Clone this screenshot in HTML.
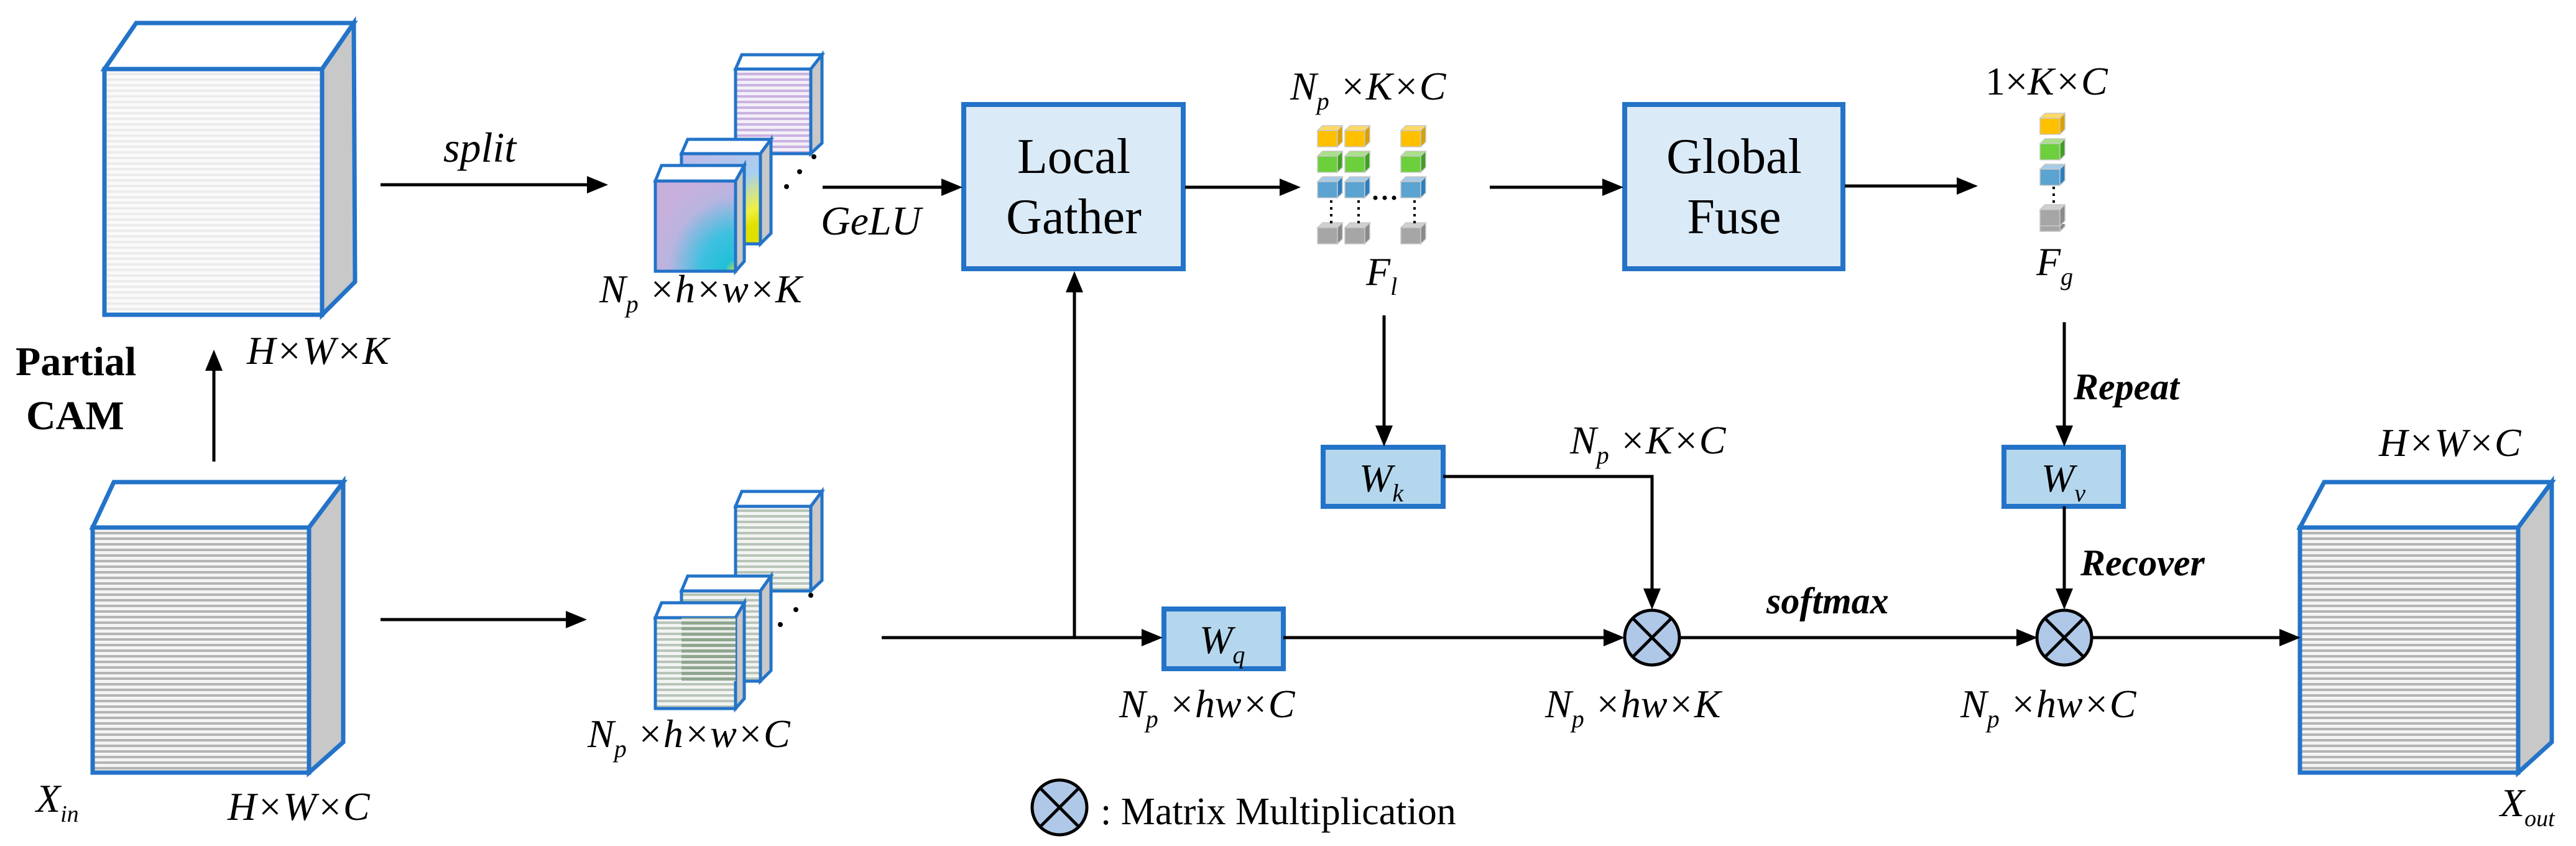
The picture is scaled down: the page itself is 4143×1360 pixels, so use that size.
<!DOCTYPE html>
<html><head><meta charset="utf-8"><style>
html,body{margin:0;padding:0;background:#fff;}
svg{display:block;}
svg text, svg tspan{font-family:"Liberation Serif","DejaVu Serif","Times New Roman",Times,serif;fill:#000;}
.it{font-style:italic;}
</style></head><body>
<svg width="4143" height="1360" viewBox="0 0 4143 1360" xmlns="http://www.w3.org/2000/svg">
<defs>
<pattern id="pl" width="10" height="9" patternUnits="userSpaceOnUse"><rect width="10" height="9" fill="#fafafa"/><rect y="0" width="10" height="4" fill="#ececec"/></pattern>
<pattern id="pd" width="10" height="9" patternUnits="userSpaceOnUse"><rect width="10" height="9" fill="#f4f4f4"/><rect y="0" width="10" height="4" fill="#b4b4b4"/></pattern>
<pattern id="pv" width="10" height="9" patternUnits="userSpaceOnUse"><rect width="10" height="9" fill="#f3eef8"/><rect y="0" width="10" height="4" fill="#c9b3e0"/></pattern>
<pattern id="pg" width="10" height="9" patternUnits="userSpaceOnUse"><rect width="10" height="9" fill="#f2f4f2"/><rect y="0" width="10" height="4" fill="#b8c4b8"/></pattern>
<pattern id="pg2" width="10" height="9" patternUnits="userSpaceOnUse"><rect width="10" height="9" fill="#e8ece8"/><rect y="0" width="10" height="5" fill="#8fa58f"/></pattern>
<radialGradient id="rg" cx="1" cy="1" r="1.1"><stop offset="0" stop-color="#d8e040"/><stop offset="0.12" stop-color="#20c0d8"/><stop offset="0.4" stop-color="#40c0e0"/><stop offset="0.75" stop-color="#b8b4e0"/><stop offset="1" stop-color="#c8b0dc"/></radialGradient>
<linearGradient id="lg" x1="0" y1="0" x2="0.4" y2="1"><stop offset="0" stop-color="#c0b8e8"/><stop offset="0.5" stop-color="#a8d0f0"/><stop offset="0.85" stop-color="#f0f040"/><stop offset="1" stop-color="#e0e000"/></linearGradient>
</defs>

<g stroke="#2373c8" stroke-width="7" stroke-linejoin="miter">
<polygon points="168,111 219,37 569,37 518,111" fill="#fff"/>
<polygon points="518,111 569,37 571,453 518,506" fill="#c8c8c8"/>
<rect x="168" y="111" width="350" height="395" fill="url(#pl)"/>
<polygon points="149,848 183,775 552,775 497,848" fill="#fff"/>
<polygon points="497,848 552,775 552,1193 497,1242" fill="#c8c8c8"/>
<rect x="149" y="848" width="348" height="394" fill="url(#pd)"/>
<polygon points="3699,848 3738,775 4104,775 4050,848" fill="#fff"/>
<polygon points="4050,848 4104,775 4104,1193 4050,1242" fill="#c8c8c8"/>
<rect x="3699" y="848" width="351" height="394" fill="url(#pd)"/>
</g>

<g stroke="#2373c8" stroke-width="5">
<polygon points="1183,111 1193,88 1322,88 1304,111" fill="#fff"/>
<polygon points="1304,111 1322,88 1322,230 1304,247" fill="#c8c8c8"/>
<rect x="1183" y="111" width="121" height="136" fill="url(#pv)"/>
<polygon points="1096,247 1106,224 1240,224 1223,247" fill="#fff"/>
<polygon points="1223,247 1240,224 1240,375 1223,392" fill="#c8c8c8"/>
<rect x="1096" y="247" width="127" height="145" fill="url(#lg)"/>
<polygon points="1054,291 1064,266 1197,266 1183,291" fill="#fff"/>
<polygon points="1183,291 1197,266 1197,420 1183,436" fill="#c8c8c8"/>
<rect x="1054" y="291" width="129" height="145" fill="url(#rg)"/>
<polygon points="1183,814 1193,790 1322,790 1304,814" fill="#fff"/>
<polygon points="1304,814 1322,790 1322,933 1304,950" fill="#c8c8c8"/>
<rect x="1183" y="814" width="121" height="136" fill="url(#pg)"/>
<polygon points="1096,950 1106,926 1240,926 1223,950" fill="#fff"/>
<polygon points="1223,950 1240,926 1240,1078 1223,1095" fill="#c8c8c8"/>
<rect x="1096" y="950" width="127" height="145" fill="url(#pg)"/>
<polygon points="1054,993 1064,969 1197,969 1183,993" fill="#fff"/>
<polygon points="1183,993 1197,969 1197,1123 1183,1139" fill="#c8c8c8"/>
<rect x="1054" y="993" width="129" height="146" fill="url(#pg)"/>
<rect x="1096" y="993" width="87" height="102" fill="url(#pg2)" stroke="none"/>
</g>
<g fill="#000">
<circle cx="1265" cy="300" r="4"/><circle cx="1286" cy="276" r="4"/><circle cx="1309" cy="252" r="4"/>
<circle cx="1255" cy="1004" r="4"/><circle cx="1280" cy="980" r="4"/><circle cx="1304" cy="957" r="4"/>
</g>

<g stroke="#2373c8" stroke-width="8">
<rect x="1550" y="168" width="353" height="264" fill="#dbeaf7"/>
<rect x="2613" y="168" width="351" height="264" fill="#dbeaf7"/>
<rect x="2128" y="719" width="193" height="95" fill="#b4d7ee"/>
<rect x="1872" y="979" width="192" height="96" fill="#b4d7ee"/>
<rect x="3223" y="719" width="192" height="95" fill="#b4d7ee"/>
</g>

<g stroke="#c8c8c8" stroke-width="1.5">
<g id="col">
<polygon points="2119,210 2127,202 2159,202 2151,210" fill="#ffd966"/><rect x="2119" y="210" width="32" height="26" fill="#ffc000"/><polygon points="2151,210 2159,202 2159,228 2151,236" fill="#d9a000"/>
<polygon points="2119,251 2127,243 2159,243 2151,251" fill="#a9e08a"/><rect x="2119" y="251" width="32" height="26" fill="#6ccf3c"/><polygon points="2151,251 2159,243 2159,269 2151,277" fill="#3fa020"/>
<polygon points="2119,292 2127,284 2159,284 2151,292" fill="#a6cbe6"/><rect x="2119" y="292" width="32" height="26" fill="#5ba3d0"/><polygon points="2151,292 2159,284 2159,310 2151,318" fill="#2a7fc0"/>
<polygon points="2119,366 2127,358 2159,358 2151,366" fill="#d0d0d0"/><rect x="2119" y="366" width="32" height="26" fill="#a6a6a6"/><polygon points="2151,366 2159,358 2159,384 2151,392" fill="#8a8a8a"/>
</g>
<use href="#col" x="44"/>
<use href="#col" x="134"/>
<use href="#col" x="1162" y="-20"/>
</g>
<rect x="3270" y="340" width="60" height="20" fill="#fff"/>
<g stroke="#c8c8c8" stroke-width="1.5">
<polygon points="3281,337 3289,329 3321,329 3313,337" fill="#d0d0d0"/><rect x="3281" y="337" width="32" height="26" fill="#a6a6a6"/><polygon points="3313,337 3321,329 3321,355 3313,363" fill="#8a8a8a"/>
</g>
<g stroke="#000" stroke-width="4" stroke-dasharray="4,7">
<line x1="2141" y1="322" x2="2141" y2="362"/>
<line x1="2185" y1="322" x2="2185" y2="362"/>
<line x1="2275" y1="322" x2="2275" y2="362"/>
<line x1="3303" y1="300" x2="3303" y2="333"/>
</g>
<g fill="#000"><circle cx="2212" cy="318" r="3.5"/><circle cx="2227" cy="318" r="3.5"/><circle cx="2242" cy="318" r="3.5"/></g>

<g stroke="#000" stroke-width="5" fill="none">
<line x1="612" y1="297" x2="950" y2="297"/>
<line x1="612" y1="996" x2="915" y2="996"/>
<line x1="344" y1="742" x2="344" y2="590"/>
<line x1="1323" y1="301" x2="1520" y2="301"/>
<line x1="1906" y1="301" x2="2065" y2="301"/>
<line x1="2396" y1="301" x2="2583" y2="301"/>
<line x1="2967" y1="299" x2="3153" y2="299"/>
<line x1="2226" y1="507" x2="2226" y2="690"/>
<polyline points="2321,766 2657,766 2657,952"/>
<line x1="1418" y1="1025" x2="1842" y2="1025"/>
<line x1="1728" y1="1025" x2="1728" y2="463"/>
<line x1="2064" y1="1025" x2="2586" y2="1025"/>
<line x1="2703" y1="1025" x2="3250" y2="1025"/>
<line x1="3320" y1="518" x2="3320" y2="690"/>
<line x1="3320" y1="814" x2="3320" y2="952"/>
<line x1="3365" y1="1025" x2="3672" y2="1025"/>
</g>
<g fill="#000">
<polygon points="978,297 944,283 944,311"/>
<polygon points="944,996 910,982 910,1010"/>
<polygon points="344,562 330,596 358,596"/>
<polygon points="1728,436 1714,470 1742,470"/>
<polygon points="1548,301 1514,287 1514,315"/>
<polygon points="2092,301 2058,287 2058,315"/>
<polygon points="2611,301 2577,287 2577,315"/>
<polygon points="3181,299 3147,285 3147,313"/>
<polygon points="2226,718 2212,684 2240,684"/>
<polygon points="2657,980 2643,946 2671,946"/>
<polygon points="1870,1025 1836,1011 1836,1039"/>
<polygon points="2613,1025 2579,1011 2579,1039"/>
<polygon points="3277,1025 3243,1011 3243,1039"/>
<polygon points="3320,718 3306,684 3334,684"/>
<polygon points="3320,980 3306,946 3334,946"/>
<polygon points="3700,1025 3666,1011 3666,1039"/>
</g>

<g stroke="#000" stroke-width="5" fill="#b0c8e8">
<circle cx="2657" cy="1025" r="44"/>
<line x1="2626" y1="994" x2="2688" y2="1056"/><line x1="2688" y1="994" x2="2626" y2="1056"/>
<circle cx="3320" cy="1025" r="44"/>
<line x1="3289" y1="994" x2="3351" y2="1056"/><line x1="3351" y1="994" x2="3289" y2="1056"/>
<circle cx="1704" cy="1298" r="44"/>
<line x1="1673" y1="1267" x2="1735" y2="1329"/><line x1="1735" y1="1267" x2="1673" y2="1329"/>
</g>

<g font-size="64">
<text x="1727" y="278" font-size="80" text-anchor="middle">Local</text>
<text x="1727" y="375" font-size="80" text-anchor="middle">Gather</text>
<text x="2789" y="278" font-size="80" text-anchor="middle">Global</text>
<text x="2789" y="375" font-size="80" text-anchor="middle">Fuse</text>
<text x="25" y="603" font-size="66" font-weight="bold">Partial</text>
<text x="42" y="690" font-size="66" font-weight="bold">CAM</text>
<text x="713" y="260" class="it" font-size="68">split</text>
<text x="1320" y="377" class="it" font-size="66">GeLU</text>
<text x="397" y="585" class="it">H×W×K</text>
<text x="366" y="1318" class="it">H×W×C</text>
<text x="3826" y="733" class="it">H×W×C</text>
<text x="58" y="1305" class="it">X<tspan font-size="38" dy="16">in</tspan></text>
<text x="4021" y="1312" class="it">X<tspan font-size="38" dy="16">out</tspan></text>
<text x="964" y="486" class="it">N<tspan font-size="40" dy="16">p</tspan><tspan dy="-16"> ×h×w×K</tspan></text>
<text x="945" y="1201" class="it">N<tspan font-size="40" dy="16">p</tspan><tspan dy="-16"> ×h×w×C</tspan></text>
<text x="2075" y="160" class="it">N<tspan font-size="40" dy="16">p</tspan><tspan dy="-16"> ×K×C</tspan></text>
<text x="3193" y="152">1×<tspan class="it">K×C</tspan></text>
<text x="2197" y="458" class="it">F<tspan font-size="40" dy="16">l</tspan></text>
<text x="3275" y="442" class="it">F<tspan font-size="40" dy="16">g</tspan></text>
<text x="2525" y="729" class="it">N<tspan font-size="40" dy="16">p</tspan><tspan dy="-16"> ×K×C</tspan></text>
<text x="1800" y="1153" class="it">N<tspan font-size="40" dy="16">p</tspan><tspan dy="-16"> ×hw×C</tspan></text>
<text x="2485" y="1153" class="it">N<tspan font-size="40" dy="16">p</tspan><tspan dy="-16"> ×hw×K</tspan></text>
<text x="3153" y="1153" class="it">N<tspan font-size="40" dy="16">p</tspan><tspan dy="-16"> ×hw×C</tspan></text>
<text x="2186" y="790" class="it">W<tspan font-size="40" dy="16">k</tspan></text>
<text x="1929" y="1050" class="it">W<tspan font-size="40" dy="16">q</tspan></text>
<text x="3283" y="790" class="it">W<tspan font-size="40" dy="16">v</tspan></text>
<text x="2841" y="986" class="it" font-weight="bold" font-size="60">softmax</text>
<text x="3335" y="642" class="it" font-weight="bold" font-size="60">Repeat</text>
<text x="3346" y="925" class="it" font-weight="bold" font-size="60">Recover</text>
<text x="1770" y="1325" font-size="62">: Matrix Multiplication</text>
</g>
</svg>
</body></html>
